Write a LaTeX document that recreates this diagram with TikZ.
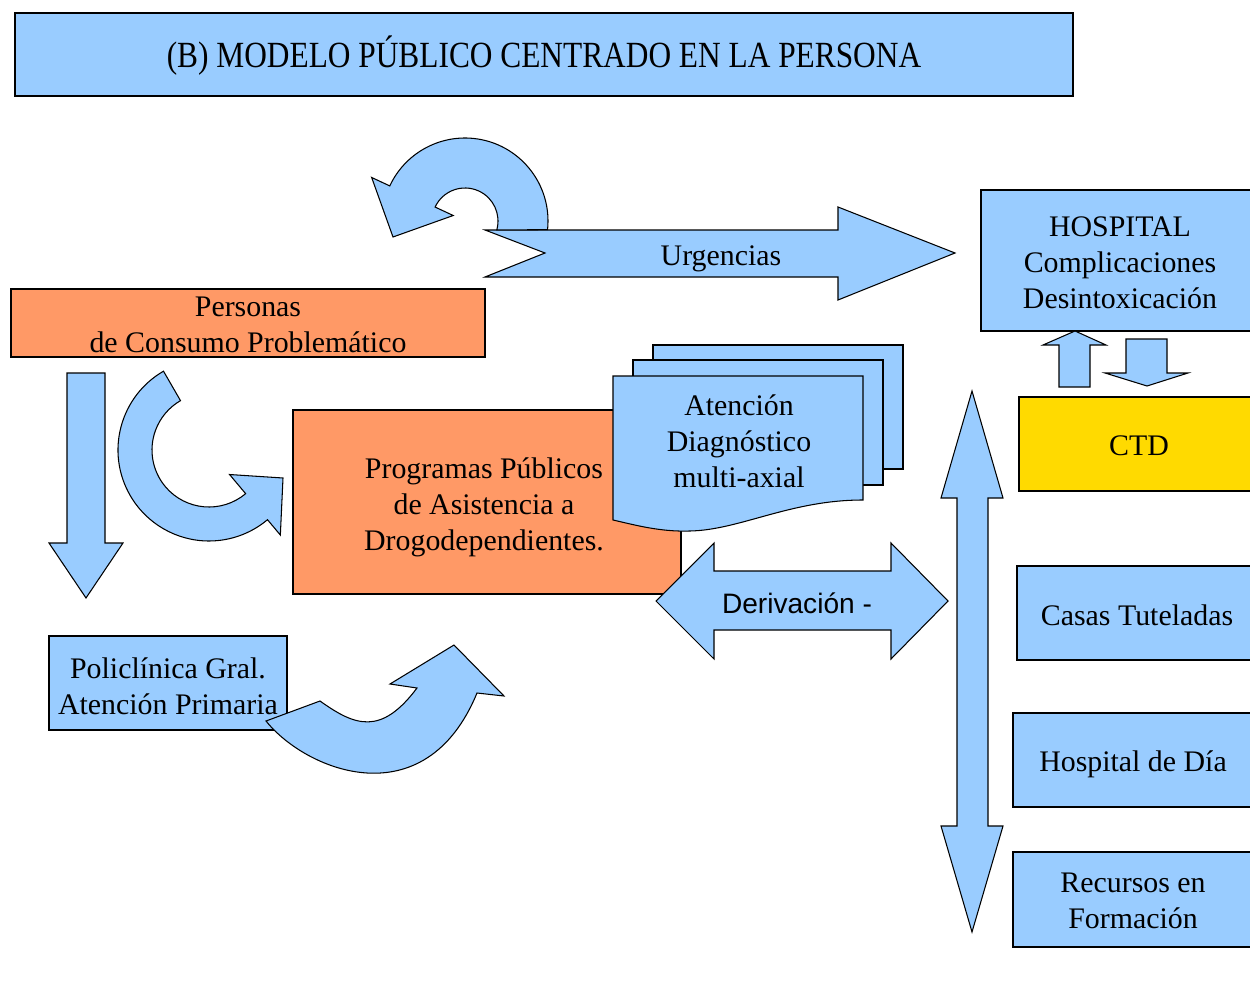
\documentclass[tikz,border=0pt]{standalone}
\usepackage{fontspec}
\setmainfont{Liberation Serif}
\newfontfamily\arialf{Liberation Sans}
\usetikzlibrary{calc}
\definecolor{bc}{RGB}{153,204,255}
\definecolor{oc}{RGB}{255,153,102}
\definecolor{yc}{RGB}{255,218,0}
\tikzset{bx/.style={draw,fill=bc,line width=.6pt},
 ob/.style={bx,fill=oc},yb/.style={bx,fill=yc},
 blk/.style={bx,line join=miter},
 lbl/.style={align=center,inner sep=0pt,font=\fontsize{17}{20.5}\selectfont}}
\begin{document}
\begin{tikzpicture}[x=0.02cm,y=-0.02cm]
\useasboundingbox (0,0) rectangle (1250,1000);
% title
\draw[bx] (15,13) rectangle (1073,96);
\node[lbl] (tit) at (544,56) {\scalebox{.85}[1]{\fontsize{21}{24}\selectfont (B) MODELO PÚBLICO CENTRADO EN LA PERSONA}};
% urgencias
\draw[blk] (485,230)--(838,230)--(838,207)--(955,253)--(838,300)--(838,277)--(485,277)--(545,253)--cycle;
\coordinate (uc) at (465,221);
\draw[blk] ($(uc)+(6:83)$) arc[start angle=6,end angle=-155,radius=83]--($(uc)+(-155:103)$)--(393,237)
 --($(uc)+(-155:13)$)--($(uc)+(-155:33)$) arc[start angle=-155,end angle=15.7,radius=33]--cycle;
\node[lbl] (urg) at (721,259) {Urgencias};
% personas
\draw[ob] (11,289) rectangle (485,357);
\node[lbl] (pers) at (248,325) {Personas\\de Consumo Problemático};
\draw[blk] (67,373)--(105,373)--(105,543)--(123,543)--(86,598)--(49,543)--(67,543)--cycle;
\coordinate (cc) at (209,450);
\draw[blk] ($(cc)+(240:91)$) arc[start angle=240,end angle=50,radius=91]--($(cc)+(50:111)$)--(283,478)
 --($(cc)+(50:32)$)--($(cc)+(50:57)$) arc[start angle=50,end angle=240,radius=57]--cycle;
% programas
\draw[ob] (293,410) rectangle (681,594);
\node[lbl] (prog) at (484,507) {Programas Públicos\\de Asistencia a\\Drogodependientes.};
\draw[bx] (653,345) rectangle (903,469);
\draw[bx] (633,360) rectangle (883,485);
\draw[bx] (613,376)--(863,376)--(863,500) .. controls (790,500) and (740,530) .. (690,531)
 .. controls (660,532) and (635,525) .. (613,520)--cycle;
\node[lbl] (diag) at (739,441) {Atención\\Diagnóstico\\multi-axial};
% derivacion
\draw[blk] (656,601)--(714,543)--(714,571)--(891,571)--(891,543)--(948,601)--(891,659)--(891,630)--(714,630)--(714,659)--cycle;
\node[lbl,font=\arialf\fontsize{16}{19}\selectfont] (deriv) at (797,603) {Derivación -};
\draw[blk] (972,391)--(1003,498)--(988,498)--(988,826)--(1003,826)--(972,932)--(941,826)--(957,826)--(957,498)--(941,498)--cycle;
% policlinica
\draw[bx] (49,636) rectangle (287,730);
\node[lbl] (poli) at (168,686) {Policlínica Gral.\\Atención Primaria};
\draw[blk] (266,721) .. controls (306,771) and (425,819) .. (477,693)--(504,696)--(454,645)--(390,684)
 --(417,688) .. controls (381,736) and (355,726) .. (320,701)--cycle;
% right column
\draw[bx] (981,190) rectangle (1262,331);
\node[lbl] (hosp) at (1120,263) {HOSPITAL\\Complicaciones\\Desintoxicación};
\draw[blk] (1075,331)--(1106,345)--(1090,345)--(1090,387)--(1059,387)--(1059,345)--(1043,345)--cycle;
\draw[blk] (1126,339)--(1167,339)--(1167,373)--(1188,373)--(1147,386)--(1105,373)--(1126,373)--cycle;
\draw[yb] (1019,397) rectangle (1262,491);
\node[lbl] (ctd) at (1139,446) {CTD};
\draw[bx] (1017,566) rectangle (1262,660);
\node[lbl] (casas) at (1137,615) {Casas Tuteladas};
\draw[bx] (1013,713) rectangle (1262,807);
\node[lbl] (hdia) at (1133,764) {Hospital de Día};
\draw[bx] (1013,852) rectangle (1262,947);
\node[lbl] (recur) at (1133,901) {Recursos en\\Formación};
\end{tikzpicture}
\end{document}
